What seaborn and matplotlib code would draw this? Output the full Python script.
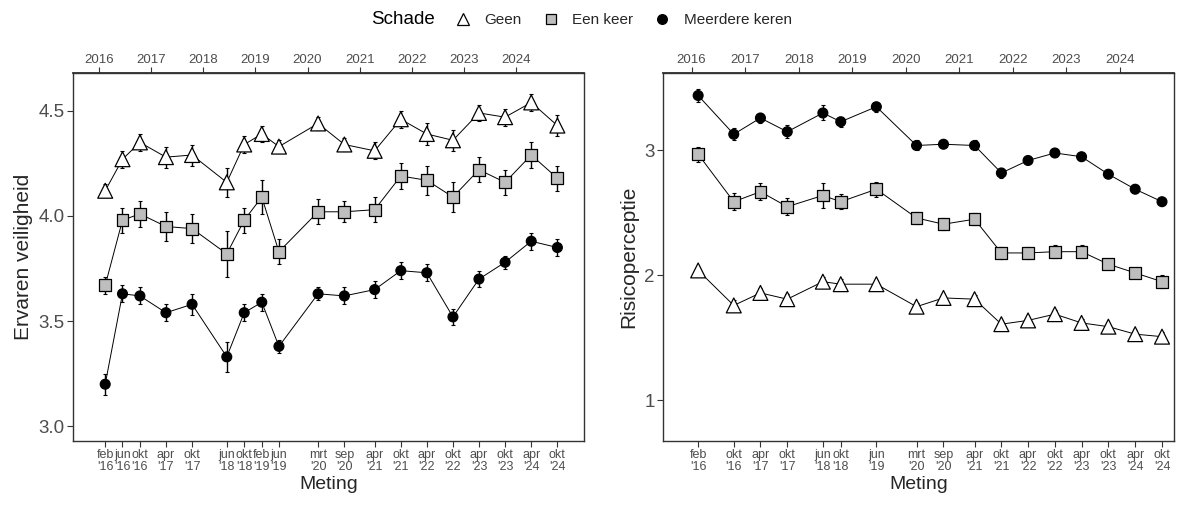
import pandas as pd
import numpy as np
import matplotlib
matplotlib.use("Agg")
import matplotlib.pyplot as plt
import matplotlib.dates as mdates
from matplotlib.lines import Line2D
import seaborn as sns

# -----------------------------
# Data
# -----------------------------
groepen = ["Geen", "Een keer", "Meerdere keren"]
jaren = list(range(2016, 2025))

# Linker paneel: ervaren veiligheid
links_data = ["2016-02-15", "2016-06-15", "2016-10-15", "2017-04-15", "2017-10-15",
              "2018-06-15", "2018-10-15", "2019-02-15", "2019-06-15", "2020-03-15",
              "2020-09-15", "2021-04-15", "2021-10-15", "2022-04-15", "2022-10-15",
              "2023-04-15", "2023-10-15", "2024-04-15", "2024-10-15"]
links_labels = ["feb\n'16", "jun\n'16", "okt\n'16", "apr\n'17", "okt\n'17",
                "jun\n'18", "okt\n'18", "feb\n'19", "jun\n'19", "mrt\n'20",
                "sep\n'20", "apr\n'21", "okt\n'21", "apr\n'22", "okt\n'22",
                "apr\n'23", "okt\n'23", "apr\n'24", "okt\n'24"]
links_geen = [4.12, 4.27, 4.35, 4.28, 4.29, 4.16, 4.34, 4.39, 4.33, 4.44,
              4.34, 4.31, 4.46, 4.39, 4.36, 4.49, 4.47, 4.54, 4.43]
links_geen_ci = [0.03, 0.04, 0.04, 0.05, 0.05, 0.07, 0.04, 0.04, 0.03, 0.03,
                 0.03, 0.04, 0.04, 0.05, 0.05, 0.04, 0.04, 0.04, 0.05]
links_een = [3.67, 3.98, 4.01, 3.95, 3.94, 3.82, 3.98, 4.09, 3.83, 4.02,
             4.02, 4.03, 4.19, 4.17, 4.09, 4.22, 4.16, 4.29, 4.18]
links_een_ci = [0.04, 0.06, 0.06, 0.07, 0.07, 0.11, 0.06, 0.08, 0.06, 0.06,
                0.05, 0.06, 0.06, 0.07, 0.07, 0.06, 0.06, 0.06, 0.06]
links_meer = [3.20, 3.63, 3.62, 3.54, 3.58, 3.33, 3.54, 3.59, 3.38, 3.63,
              3.62, 3.65, 3.74, 3.73, 3.52, 3.70, 3.78, 3.88, 3.85]
links_meer_ci = [0.05, 0.04, 0.04, 0.04, 0.05, 0.07, 0.04, 0.04, 0.03, 0.03,
                 0.04, 0.04, 0.04, 0.04, 0.04, 0.04, 0.03, 0.04, 0.04]

# Rechter paneel: risicoperceptie
rechts_data = ["2016-02-15", "2016-10-15", "2017-04-15", "2017-10-15", "2018-06-15",
               "2018-10-15", "2019-06-15", "2020-03-15", "2020-09-15", "2021-04-15",
               "2021-10-15", "2022-04-15", "2022-10-15", "2023-04-15", "2023-10-15",
               "2024-04-15", "2024-10-15"]
rechts_labels = ["feb\n'16", "okt\n'16", "apr\n'17", "okt\n'17", "jun\n'18",
                 "okt\n'18", "jun\n'19", "mrt\n'20", "sep\n'20", "apr\n'21",
                 "okt\n'21", "apr\n'22", "okt\n'22", "apr\n'23", "okt\n'23",
                 "apr\n'24", "okt\n'24"]
rechts_geen = [2.04, 1.76, 1.86, 1.81, 1.95, 1.93, 1.93, 1.75, 1.82, 1.81,
               1.61, 1.64, 1.69, 1.62, 1.59, 1.53, 1.51]
rechts_geen_ci = [0.03, 0.04, 0.04, 0.04, 0.04, 0.04, 0.03, 0.03, 0.03, 0.03,
                  0.03, 0.03, 0.03, 0.03, 0.03, 0.03, 0.04]
rechts_een = [2.97, 2.59, 2.67, 2.55, 2.64, 2.59, 2.69, 2.46, 2.41, 2.45,
              2.18, 2.18, 2.19, 2.19, 2.09, 2.02, 1.95]
rechts_een_ci = [0.06, 0.07, 0.07, 0.07, 0.10, 0.06, 0.06, 0.05, 0.05, 0.05,
                 0.05, 0.05, 0.05, 0.05, 0.04, 0.04, 0.05]
rechts_meer = [3.44, 3.13, 3.26, 3.15, 3.30, 3.23, 3.35, 3.04, 3.05, 3.04,
               2.82, 2.92, 2.98, 2.95, 2.81, 2.69, 2.59]
rechts_meer_ci = [0.05, 0.05, 0.04, 0.05, 0.06, 0.04, 0.04, 0.04, 0.03, 0.04,
                  0.04, 0.03, 0.03, 0.03, 0.03, 0.03, 0.03]


def maak_df(data, reeksen, cis):
    delen = []
    for groep, waarden, ci in zip(groepen, reeksen, cis):
        delen.append(pd.DataFrame({"datum": pd.to_datetime(data), "score": waarden,
                                   "ci": ci, "Schade": groep}))
    return pd.concat(delen, ignore_index=True)


df_links = maak_df(links_data, [links_geen, links_een, links_meer],
                   [links_geen_ci, links_een_ci, links_meer_ci])
df_rechts = maak_df(rechts_data, [rechts_geen, rechts_een, rechts_meer],
                    [rechts_geen_ci, rechts_een_ci, rechts_meer_ci])

# -----------------------------
# Stijl
# -----------------------------
sns.set_theme(style="white")
plt.rcParams['font.family'] = ['Liberation Sans', 'DejaVu Sans']

lijnkleur = {g: "black" for g in groepen}
vulkleur = {"Geen": "white", "Een keer": "#BEBEBE", "Meerdere keren": "black"}
vormen = {"Geen": "^", "Een keer": "s", "Meerdere keren": "o"}
groottes = {"Geen": 115, "Een keer": 72, "Meerdere keren": 50}
tekstgrijs = "#4D4D4D"
randkleur = "#333333"


def teken(ax, df, labels, ylabel, ylim, yticks, yticklabels, xlim):
    sns.lineplot(data=df, x="datum", y="score", hue="Schade", palette=lijnkleur,
                 estimator=None, errorbar=None, legend=False, ax=ax, lw=0.7)
    for groep in groepen:
        g = df[df["Schade"] == groep]
        ax.errorbar(g["datum"], g["score"], yerr=g["ci"], fmt="none", ecolor="black",
                    elinewidth=1.0, capsize=1.5, capthick=0.8, zorder=2)
    sns.scatterplot(data=df, x="datum", y="score", hue="Schade", style="Schade",
                    size="Schade", palette=vulkleur, markers=vormen, sizes=groottes,
                    edgecolor="black", linewidth=0.9, legend=False, ax=ax, zorder=3)

    datums = pd.to_datetime(df["datum"].unique())
    ax.set_xticks(mdates.date2num(datums))
    ax.set_xticklabels(labels, linespacing=0.95)
    ax.set_xlim(mdates.date2num(pd.Timestamp(xlim[0])), mdates.date2num(pd.Timestamp(xlim[1])))
    ax.set_ylim(*ylim)
    ax.set_yticks(yticks)
    ax.set_yticklabels(yticklabels)
    ax.set_xlabel("Meting", fontsize=14, labelpad=2)
    ax.set_ylabel(ylabel, fontsize=15, labelpad=4)
    ax.tick_params(axis="x", labelsize=9, colors=randkleur, labelcolor=tekstgrijs,
                   length=4, width=0.8, bottom=True, pad=2)
    ax.tick_params(axis="y", labelsize=13.5, colors=randkleur, labelcolor=tekstgrijs,
                   length=4, width=0.8, left=True, pad=2)
    for sp in ax.spines.values():
        sp.set_color(randkleur)
        sp.set_linewidth(1.0)

    boven = ax.secondary_xaxis("top")
    jaartikken = [mdates.date2num(pd.Timestamp(f"{j}-01-01")) for j in jaren]
    boven.set_xticks(jaartikken)
    boven.set_xticklabels([str(j) for j in jaren])
    boven.tick_params(axis="x", labelsize=9.5, colors=randkleur, labelcolor=tekstgrijs,
                      length=4, width=0.8, pad=1)


fig = plt.figure(figsize=(11.86, 5.12), dpi=100)
ax1 = fig.add_axes([0.0616, 0.1387, 0.4309, 0.7187])
ax2 = fig.add_axes([0.5590, 0.1387, 0.4309, 0.7187])

teken(ax1, df_links, links_labels, "Ervaren veiligheid", (2.93, 4.68),
      [3.0, 3.5, 4.0, 4.5], ["3.0", "3.5", "4.0", "4.5"], ("2015-07-05", "2025-04-20"))
teken(ax2, df_rechts, rechts_labels, "Risicoperceptie", (0.675, 3.62),
      [1, 2, 3], ["1", "2", "3"], ("2015-06-20", "2025-01-05"))

# Legenda bovenaan
handles = [Line2D([], [], linestyle="none", marker=vormen[g], markersize=9 if g == "Geen" else 7,
                  markerfacecolor=vulkleur[g], markeredgecolor="black", markeredgewidth=0.9)
           for g in groepen]
fig.text(0.340, 0.961, "Schade", fontsize=13.5, ha="center", va="center", color="black")
fig.legend(handles, groepen, loc="center", bbox_to_anchor=(0.525, 0.961), ncol=3,
           frameon=False, fontsize=11, handletextpad=0.8, columnspacing=1.3,
           handlelength=1.2)

fig.savefig("out.png", dpi=100)
